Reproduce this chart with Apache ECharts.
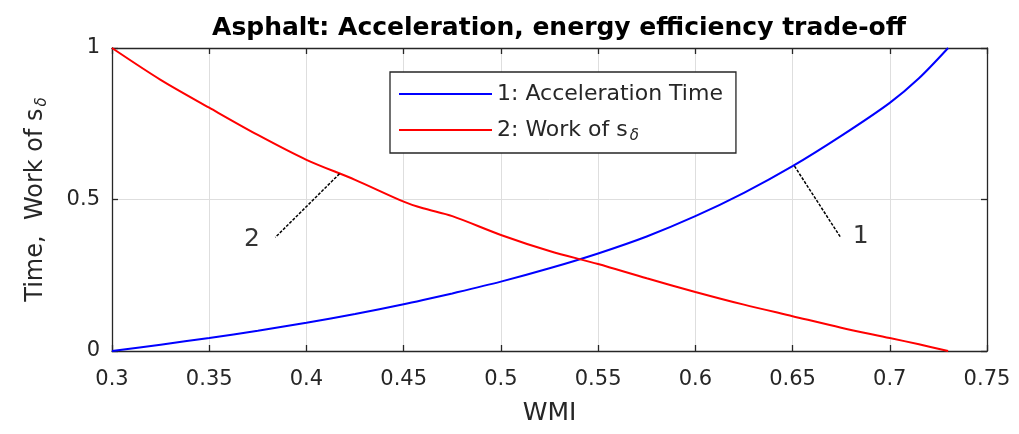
<!DOCTYPE html>
<html>
<head>
<meta charset="utf-8">
<script src="https://cdn.jsdelivr.net/npm/echarts@6/dist/echarts.min.js"></script>
<style>html,body{margin:0;padding:0;background:#fff;}#c{width:1019px;height:434px;}</style>
</head>
<body>
<div id="c"></div>
<script>
// ---- data ----
const wmi = [0.3, 0.325, 0.35, 0.375, 0.4, 0.425, 0.45, 0.46, 0.475, 0.5, 0.525, 0.55, 0.575, 0.6, 0.625, 0.65, 0.675, 0.7, 0.715, 0.73];
const accelTime = [0, 0.021, 0.043, 0.067, 0.093, 0.122, 0.154, 0.168, 0.19, 0.229, 0.273, 0.322, 0.378, 0.445, 0.522, 0.61, 0.71, 0.819, 0.9, 1.0];
const workS = [1.0, 0.895, 0.803, 0.713, 0.631, 0.565, 0.493, 0.471, 0.445, 0.383, 0.33, 0.287, 0.24, 0.195, 0.153, 0.115, 0.077, 0.043, 0.022, 0];
const seriesNames = ['1: Acceleration Time', '2: Work of s_δ'];
const annot1Line = [[0.651, 0.61], [0.6745, 0.377]];
const annot1Text = [[0.685, 0.377, '1']];
const annot2Line = [[0.417, 0.585], [0.384, 0.375]];
const annot2Text = [[0.372, 0.367, '2']];
const xTicks = {min: 0.3, max: 0.75, interval: 0.05};
const yTicks = {min: 0, max: 1, interval: 0.5};

const FONT = 'DejaVu Sans';
const TXT = '#262626';
const chart = echarts.init(document.getElementById('c'), null, {renderer: 'canvas'});
const pair = (xs, ys) => xs.map((x, i) => [x, ys[i]]);

const axisCommon = {
  axisLine: {show: true, onZero: false, lineStyle: {color: TXT, width: 1.3}},
  axisTick: {show: true, inside: true, length: 6, lineStyle: {color: TXT, width: 1.3}},
  splitLine: {show: false}
};

chart.setOption({
  animation: false,
  backgroundColor: '#fff',
  title: {
    text: 'Asphalt: Acceleration, energy efficiency trade-off',
    left: 554, top: 11, textAlign: 'center',
    textStyle: {fontFamily: FONT, fontWeight: 'bold', fontSize: 25, color: '#000'}
  },
  grid: {left: 112, right: 32, top: 48, bottom: 83, containLabel: false},
  legend: {
    orient: 'vertical', left: 390, top: 72,
    data: seriesNames,
    icon: 'rect', itemWidth: 93, itemHeight: 2, itemGap: 14,
    padding: [11, 13, 9, 9],
    borderColor: TXT, borderWidth: 1.3, backgroundColor: '#fff',
    formatter: function (name) {
      const p = name.split('_');
      return p.length > 1 ? '{t|' + p[0] + '}{sub|' + p[1] + '}' : '{t|' + name + '}';
    },
    textStyle: {
      fontFamily: FONT, fontSize: 22, color: TXT,
      rich: {
        t: {fontFamily: FONT, fontSize: 22, color: TXT, lineHeight: 24},
        sub: {fontFamily: FONT, fontSize: 15, fontStyle: 'italic', color: TXT, padding: [13, 0, 0, 2]}
      }
    }
  },
  xAxis: [
    Object.assign({
      type: 'value', position: 'bottom', min: xTicks.min, max: xTicks.max, interval: xTicks.interval,
      name: 'WMI', nameLocation: 'middle', nameGap: 50,
      nameTextStyle: {fontFamily: FONT, fontSize: 25, color: TXT},
      axisLabel: {fontFamily: FONT, fontSize: 21, color: TXT, margin: 18, formatter: v => String(+v.toFixed(2))}
    }, axisCommon, {splitLine: {show: true, lineStyle: {color: '#dedede', width: 1}}}),
    Object.assign({
      type: 'value', position: 'top', min: xTicks.min, max: xTicks.max, interval: xTicks.interval,
      axisLabel: {show: false}
    }, axisCommon)
  ],
  yAxis: [
    Object.assign({
      type: 'value', position: 'left', min: yTicks.min, max: yTicks.max, interval: yTicks.interval,
      name: '{a|Time,  Work of s}{sub|δ}', nameLocation: 'middle', nameGap: 62,
      nameTextStyle: {
        fontFamily: FONT, fontSize: 24, color: TXT,
        rich: {
          a: {fontFamily: FONT, fontSize: 24, color: TXT},
          sub: {fontFamily: FONT, fontSize: 15, fontStyle: 'italic', color: TXT, padding: [13, 0, 0, 2]}
        }
      },
      axisLabel: {fontFamily: FONT, fontSize: 21, color: TXT, margin: 12, formatter: v => String(+v.toFixed(2))}
    }, axisCommon, {splitLine: {show: true, lineStyle: {color: '#dedede', width: 1}}}),
    Object.assign({
      type: 'value', position: 'right', min: yTicks.min, max: yTicks.max, interval: yTicks.interval,
      axisLabel: {show: false}
    }, axisCommon)
  ],
  series: [
    {name: seriesNames[0], type: 'line', data: pair(wmi, accelTime), smooth: 0.3, showSymbol: false,
     lineStyle: {color: '#0000ff', width: 2}, itemStyle: {color: '#0000ff'}, z: 3},
    {name: seriesNames[1], type: 'line', data: pair(wmi, workS), smooth: 0.3, showSymbol: false,
     lineStyle: {color: '#ff0000', width: 2}, itemStyle: {color: '#ff0000'}, z: 3},
    {type: 'line', data: annot1Line, showSymbol: false, lineStyle: {color: '#000', width: 1.5, type: [3, 1.5]}, z: 4, silent: true},
    {type: 'line', data: annot2Line, showSymbol: false, lineStyle: {color: '#000', width: 1.5, type: [3, 1.5]}, z: 4, silent: true},
    {type: 'scatter', data: annot1Text.concat(annot2Text), symbolSize: 0, z: 5, silent: true,
     label: {show: true, position: 'inside', formatter: p => p.value[2], fontFamily: FONT, fontSize: 25, color: '#000'}}
  ]
});
</script>
</body>
</html>
